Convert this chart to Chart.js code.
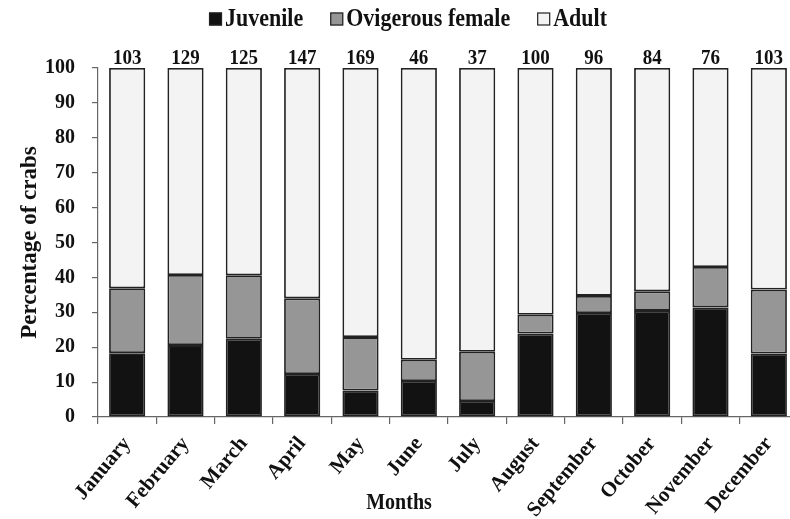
<!DOCTYPE html>
<html>
<head>
<meta charset="utf-8">
<script src="https://cdn.jsdelivr.net/npm/chart.js@4.4.0/dist/chart.umd.min.js"></script>
<style>
html,body{margin:0;padding:0;background:#fff;overflow:hidden;width:790px;height:519px;}
canvas{display:block;}
</style>
</head>
<body>
<canvas id="c" width="800" height="519"></canvas>
<script>
const categories = ['January','February','March','April','May','June','July','August','September','October','November','December'];
const juvenile  = [18.3, 20.6, 22.4, 12.3, 7.6, 10.3, 4.6, 23.9, 29.8, 30.4, 31.4, 18.2];
const ovigerous = [18.6, 20.1, 18.2, 21.7, 15.3, 6.1, 14.1, 5.4, 4.9, 5.6, 11.6, 18.3];
const adult     = [63.1, 59.3, 59.4, 66.0, 77.1, 83.6, 81.3, 70.7, 65.3, 64.0, 57.0, 63.5];
const counts    = [103, 129, 125, 147, 169, 46, 37, 100, 96, 84, 76, 103];
const seriesNames = ['Juvenile', 'Ovigerous female', 'Adult'];
const xTitle = 'Months';
const yTitle = 'Percentage of crabs';

const FONT = "'Liberation Serif', 'Times New Roman', serif";
const STRETCH = 1.15;

function tallText(ctx, text, x, y) {
  ctx.save();
  ctx.translate(x, y);
  ctx.scale(1, STRETCH);
  ctx.fillText(text, 0, 0);
  ctx.restore();
}

const customText = {
  id: 'customText',
  afterDraw(chart) {
    const ctx = chart.ctx;
    const xs = chart.scales.x;
    const area = chart.chartArea;
    ctx.save();
    ctx.fillStyle = '#111';
    ctx.font = "bold 19px " + FONT;
    ctx.textAlign = 'center';
    ctx.textBaseline = 'alphabetic';
    counts.forEach((n, i) => {
      tallText(ctx, String(n), xs.getPixelForValue(i), area.top - 4);
    });
    ctx.font = "bold 20px " + FONT;
    ctx.textBaseline = 'middle';
    tallText(ctx, xTitle, 399, 503);
    ctx.font = "bold 22px " + FONT;
    const box = 13, gap = 3, spacing = 27;
    const items = chart.data.datasets.map(d => ({text: d.label, color: d.backgroundColor, w: ctx.measureText(d.label).width}));
    let total = 0;
    items.forEach((it, k) => { total += box + gap + it.w + (k < items.length - 1 ? spacing : 0); });
    let x = 408 - total / 2;
    const cy = 19;
    ctx.textAlign = 'left';
    ctx.textBaseline = 'middle';
    items.forEach(it => {
      ctx.fillStyle = it.color;
      ctx.fillRect(x, cy - box / 2, box, box);
      ctx.strokeStyle = '#222';
      ctx.lineWidth = 1.2;
      ctx.strokeRect(x + 0.5, cy - box / 2 + 0.5, box - 1, box - 1);
      ctx.fillStyle = '#111';
      tallText(ctx, it.text, x + box + gap, cy);
      x += box + gap + it.w + spacing;
    });
    ctx.restore();
  }
};

new Chart(document.getElementById('c'), {
  type: 'bar',
  data: {
    labels: categories,
    datasets: [
      {label: seriesNames[0], data: juvenile, backgroundColor: '#121212'},
      {label: seriesNames[1], data: ovigerous, backgroundColor: '#969696'},
      {label: seriesNames[2], data: adult, backgroundColor: '#f3f3f3'}
    ]
  },
  options: {
    responsive: false,
    animation: false,
    devicePixelRatio: 1,
    layout: {padding: {top: 68, right: 2, left: 0, bottom: 0}},
    datasets: {
      bar: {
        borderColor: '#222',
        borderWidth: 1.8,
        borderSkipped: false,
        categoryPercentage: 1,
        barPercentage: 0.62
      }
    },
    plugins: {
      legend: {display: false},
      tooltip: {enabled: false}
    },
    scales: {
      x: {
        stacked: true,
        offset: true,
        grid: {display: true, offset: true, drawOnChartArea: false, drawTicks: true, tickLength: 7, color: '#666', lineWidth: 1.2},
        border: {display: true, color: '#666', width: 1.2},
        ticks: {autoSkip: false, maxRotation: 50, minRotation: 50, padding: 8, color: '#111', font: {family: FONT, size: 21, weight: 'bold'}},
        afterFit(s) { s.height = 102; }
      },
      y: {
        stacked: true,
        min: 0,
        max: 100,
        grid: {display: true, drawOnChartArea: false, drawTicks: true, tickLength: 6, color: '#666', lineWidth: 1.2},
        border: {display: true, color: '#666', width: 1.2},
        ticks: {stepSize: 10, padding: 17, color: '#111', font: {family: FONT, size: 20, weight: 'bold'}},
        title: {display: true, text: yTitle, color: '#111', padding: {top: 16, bottom: 0}, font: {family: FONT, size: 23, weight: 'bold'}},
        afterFit(s) { s.width = 98; }
      }
    }
  },
  plugins: [customText]
});
</script>
</body>
</html>
